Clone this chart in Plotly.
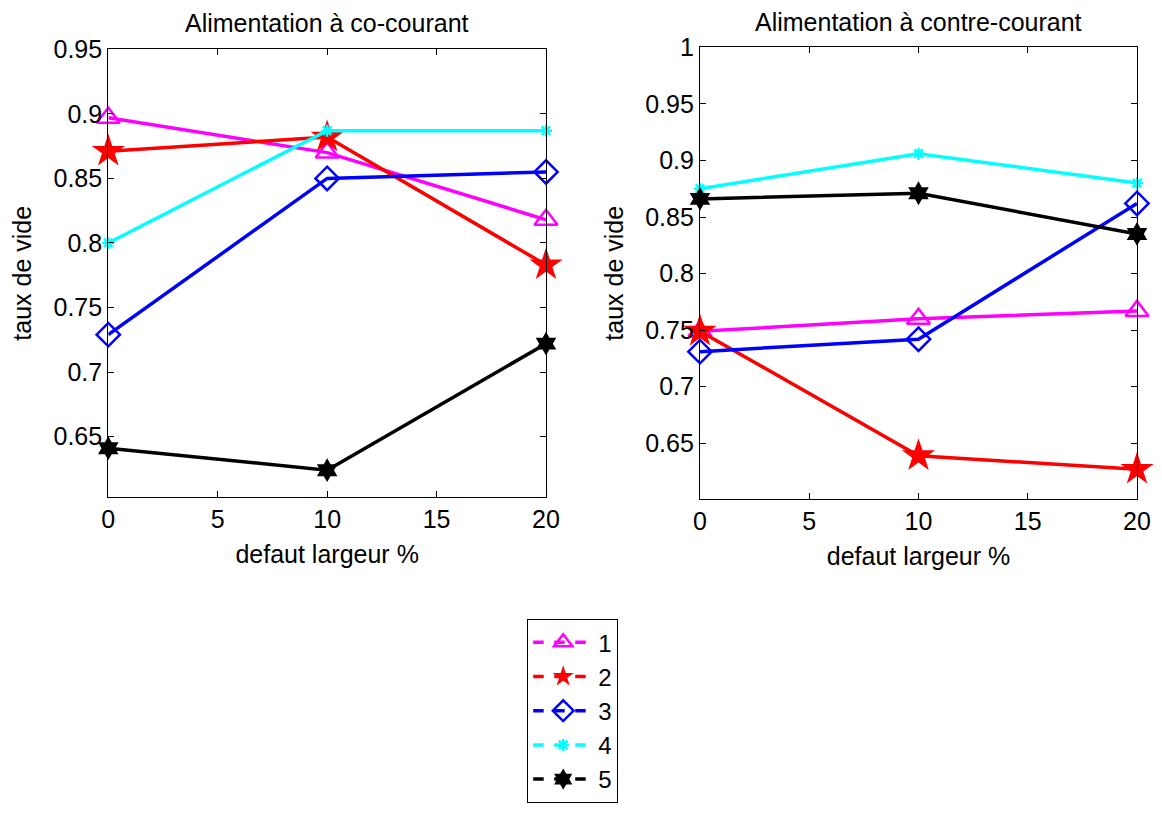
import plotly.graph_objects as go

x_vals = [0, 10, 20]
series_names = ["1", "2", "3", "4", "5"]

# Alimentation à co-courant
co_1 = [0.897, 0.870, 0.818]
co_2 = [0.871, 0.882, 0.783]
co_3 = [0.729, 0.850, 0.855]
co_4 = [0.800, 0.887, 0.887]
co_5 = [0.641, 0.624, 0.722]

# Alimentation à contre-courant
ct_1 = [0.749, 0.760, 0.767]
ct_2 = [0.749, 0.639, 0.627]
ct_3 = [0.731, 0.742, 0.862]
ct_4 = [0.875, 0.906, 0.880]
ct_5 = [0.866, 0.871, 0.835]

left_yticks = [0.65, 0.7, 0.75, 0.8, 0.85, 0.9, 0.95]
right_yticks = [0.65, 0.7, 0.75, 0.8, 0.85, 0.9, 0.95, 1.0]
x_ticks = [0, 5, 10, 15, 20]

colors = ["#ff00ff", "#ff0000", "#0000ff", "#00ffff", "#000000"]
markers = [
    dict(symbol="triangle-up-open", size=20, line=dict(width=2.5)),
    dict(symbol="star", size=25, line=dict(width=0)),
    dict(symbol="diamond-open", size=18, line=dict(width=2.5)),
    dict(symbol="asterisk-open", size=10, line=dict(width=2.5)),
    dict(symbol="hexagram", size=18, line=dict(width=0)),
]

FONT = "Arial, Liberation Sans, sans-serif"
TICK_FS = 25
LABEL_FS = 25
TITLE_FS = 25
LEGEND_FS = 24

# page is rendered with an 8px body margin; compensate so nothing overflows
OFF = 8
W, H = 1162 - OFF, 817 - 2 * OFF


def px(x):
    return (x - OFF) / W


def py(y):
    return 1 - (y - OFF) / H


fig = go.Figure()

co_series = [co_1, co_2, co_3, co_4, co_5]
ct_series = [ct_1, ct_2, ct_3, ct_4, ct_5]

for i in range(5):
    m = dict(markers[i])
    m["color"] = colors[i]
    m["line"] = dict(markers[i]["line"], color=colors[i])
    fig.add_trace(go.Scatter(x=x_vals, y=co_series[i], mode="lines+markers",
                             line=dict(color=colors[i], width=3.5), marker=m,
                             showlegend=False, cliponaxis=False,
                             xaxis="x", yaxis="y"))
    fig.add_trace(go.Scatter(x=x_vals, y=ct_series[i], mode="lines+markers",
                             line=dict(color=colors[i], width=3.5), marker=m,
                             showlegend=False, cliponaxis=False,
                             xaxis="x2", yaxis="y2"))

for i in range(5):
    m = dict(markers[i])
    m["color"] = colors[i]
    m["line"] = dict(markers[i]["line"], color=colors[i])
    fig.add_trace(go.Scatter(x=[None], y=[None], mode="lines+markers",
                             name=series_names[i], legendgroup=series_names[i],
                             line=dict(color=colors[i], width=3.5, dash="dash"),
                             marker=m, xaxis="x", yaxis="y"))


def fmt(v):
    return ("%.2f" % v).rstrip("0").rstrip(".")


axis_common = dict(
    showline=True, linecolor="black", linewidth=1.2, mirror="ticks",
    ticks="inside", ticklen=6, tickcolor="black", tickwidth=1.2,
    showgrid=False, zeroline=False, automargin=False,
    tickfont=dict(family=FONT, size=TICK_FS, color="black"),
)

L1, R1, T1, B1 = 108.3, 546.0, 49.3, 497.3
L2, R2, T2, B2 = 700.0, 1137.0, 47.3, 499.3

fig.update_layout(
    width=W, height=H,
    paper_bgcolor="white", plot_bgcolor="white",
    margin=dict(l=0, r=0, t=0, b=0, autoexpand=False),
    font=dict(family=FONT, size=TICK_FS, color="black"),
    xaxis=dict(axis_common, domain=[px(L1), px(R1)], range=[0, 20],
               tickvals=x_ticks, anchor="y",
               title=dict(text="defaut largeur %", font=dict(size=LABEL_FS), standoff=13)),
    yaxis=dict(axis_common, domain=[py(B1), py(T1)], range=[0.603, 0.95],
               tickvals=left_yticks, ticktext=[fmt(v) for v in left_yticks],
               anchor="x",
               title=dict(text="taux de vide", font=dict(size=LABEL_FS), standoff=14)),
    xaxis2=dict(axis_common, domain=[px(L2), px(R2)], range=[0, 20],
                tickvals=x_ticks, anchor="y2",
                title=dict(text="defaut largeur %", font=dict(size=LABEL_FS), standoff=13)),
    yaxis2=dict(axis_common, domain=[py(B2), py(T2)], range=[0.6005, 1.0],
                tickvals=right_yticks, ticktext=[fmt(v) for v in right_yticks],
                anchor="x2",
                title=dict(text="taux de vide", font=dict(size=LABEL_FS), standoff=14)),
    legend=dict(x=px(527), y=py(619), xanchor="left", yanchor="top",
                bordercolor="black", borderwidth=1.2, bgcolor="white",
                font=dict(family=FONT, size=LEGEND_FS, color="black"),
                tracegroupgap=0, itemwidth=60),
    annotations=[
        dict(text="Alimentation à co-courant", xref="paper", yref="paper",
             x=(px(L1) + px(R1)) / 2, y=py(23), xanchor="center", yanchor="middle",
             showarrow=False, font=dict(family=FONT, size=TITLE_FS, color="black")),
        dict(text="Alimentation à contre-courant", xref="paper", yref="paper",
             x=(px(L2) + px(R2)) / 2, y=py(22), xanchor="center", yanchor="middle",
             showarrow=False, font=dict(family=FONT, size=TITLE_FS, color="black")),
    ],
)

fig.write_html("out.html")
